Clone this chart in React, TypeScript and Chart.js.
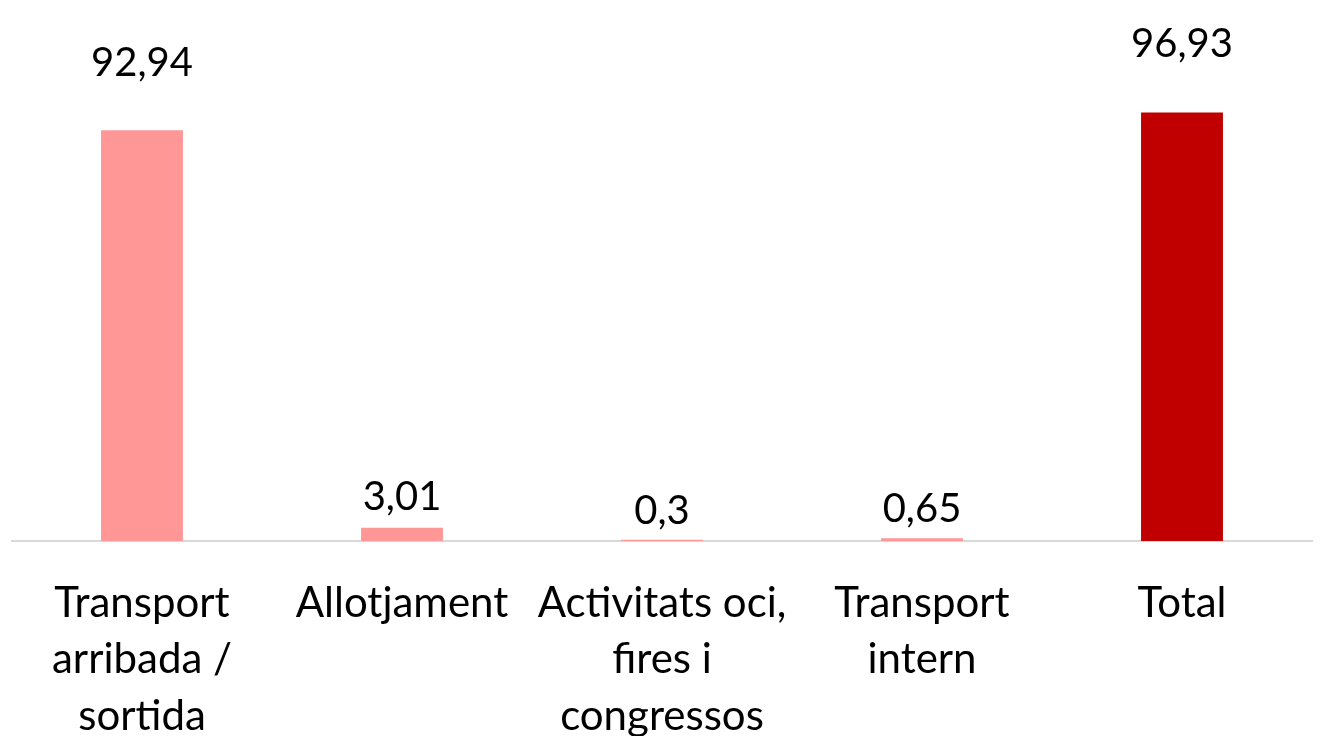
import React, { useEffect, useRef } from "react";
import { Chart, registerables } from "chart.js";

Chart.register(...registerables);

const categories: string[][] = [
  ["Transport", "arribada /", "sortida"],
  ["Allotjament"],
  ["Activitats oci,", "fires i", "congressos"],
  ["Transport", "intern"],
  ["Total"],
];
const values: number[] = [92.94, 3.01, 0.3, 0.65, 96.93];
const valueLabels: string[] = ["92,94", "3,01", "0,3", "0,65", "96,93"];
const barColors: string[] = ["#FF9797", "#FF9797", "#FF9797", "#FF9797", "#C00000"];

const FONT = "Lato, 'Open Sans', sans-serif";

const valueLabelPlugin = {
  id: "valueLabels",
  afterDatasetsDraw(chart: any) {
    const ctx = chart.ctx;
    const meta = chart.getDatasetMeta(0);
    const base = chart.scales.y.getPixelForValue(0);
    ctx.save();
    ctx.font = `40px ${FONT}`;
    ctx.fillStyle = "#000000";
    ctx.textAlign = "center";
    ctx.textBaseline = "alphabetic";
    meta.data.forEach((bar: any, i: number) => {
      const h = base - bar.y;
      const gap = 16 + 0.093 * h;
      ctx.fillText(valueLabels[i], bar.x, bar.y - gap);
    });
    ctx.restore();
  },
};

export default function App() {
  const ref = useRef<HTMLCanvasElement | null>(null);
  useEffect(() => {
    if (!ref.current) return;
    const chart = new Chart(ref.current, {
      type: "bar",
      data: {
        labels: categories,
        datasets: [
          {
            data: values,
            backgroundColor: barColors,
            borderWidth: 0,
            barPercentage: 0.315,
            categoryPercentage: 1,
          },
        ],
      },
      options: {
        responsive: false,
        animation: false,
        devicePixelRatio: 1,
        layout: { padding: { left: 12, right: 9, top: 99, bottom: 0 } },
        plugins: {
          legend: { display: false },
          tooltip: { enabled: false },
          title: { display: false },
        },
        scales: {
          x: {
            grid: { display: false, drawTicks: false },
            border: { display: true, color: "#D9D9D9", width: 2 },
            ticks: {
              color: "#000000",
              font: { family: FONT, size: 42, lineHeight: 1.345 },
              padding: 34,
              maxRotation: 0,
              minRotation: 0,
              autoSkip: false,
            },
            afterFit: (axis: any) => {
              axis.height = 195;
            },
          },
          y: {
            display: false,
            min: 0,
            max: 100,
          },
        },
      },
      plugins: [valueLabelPlugin],
    });
    return () => chart.destroy();
  }, []);
  return (
    <div style={{ position: "fixed", left: 0, top: 0, width: 1321, height: 736, background: "#ffffff" }}>
      <canvas ref={ref} width={1321} height={736} style={{ display: "block" }} />
    </div>
  );
}
